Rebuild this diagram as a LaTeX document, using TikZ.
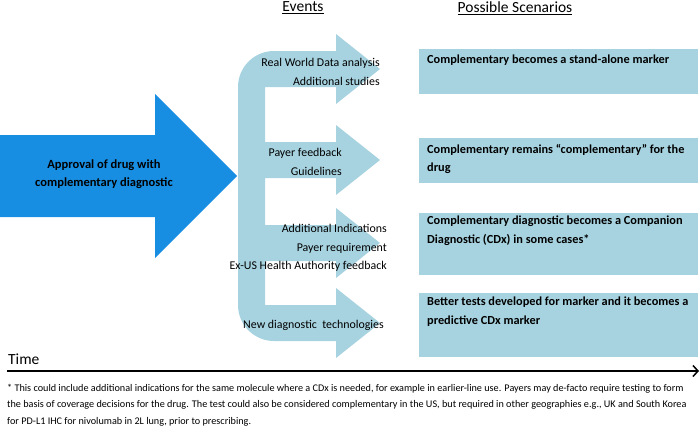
\documentclass[tikz,border=0pt]{standalone}
\usepackage{fontspec}
\setmainfont{Carlito}
\usetikzlibrary{arrows.meta}

\definecolor{approvalblue}{RGB}{24,142,226}
\definecolor{eventblue}{RGB}{167,211,224}

\tikzset{
  heading/.style={font=\fontsize{15.5}{17}\selectfont},
  eventtext/.style={font=\fontsize{11.9}{18.3}\selectfont, align=right, inner sep=0pt, anchor=east},
  scentext/.style={font=\bfseries\fontsize{12.3}{18.5}\selectfont, align=left, inner sep=0pt, anchor=north west},
}

\begin{document}
\begin{tikzpicture}[x=1pt,y=-1pt]
        \useasboundingbox (0,0) rectangle (700,428);

        % Column headings
        \node[heading] (events) at (303,8) {\underline{Events}};
        \node[heading] (scenarios) at (515,8) {\underline{Possible Scenarios}};

        % Big arrow for the approval
        \fill[approvalblue] (0,135) -- (155,135) -- (155,94) -- (237,176) -- (155,258) -- (155,217) -- (0,217) -- cycle;
        \node[font=\bfseries\fontsize{12.5}{18}\selectfont, align=center] (approval) at (104,174) {Approval of drug with\\complementary diagnostic};

        % Branching arrow, one head per event
        \fill[eventblue] (265,87) -- (336,87) -- (336,104) -- (380,69) -- (336,34) -- (336,51)
            [rounded corners=36pt] -- (238,51) -- (238,341) [sharp corners] -- (336,341)
            -- (336,358) -- (380,323) -- (336,288) -- (336,305) -- (265,305)
            -- (265,261) -- (336,261) -- (336,278) -- (380,243) -- (336,208) -- (336,225) -- (265,225)
            -- (265,178) -- (336,178) -- (336,195) -- (380,160) -- (336,125) -- (336,142) -- (265,142) -- cycle;

        % Event labels
        \node[eventtext] (ev1) at (380,72) {Real World Data analysis\\Additional studies};
        \node[eventtext] (ev2) at (342,162) {Payer feedback\\Guidelines};
        \node[eventtext] (ev3) at (387,248) {Additional Indications\\Payer requirement\\Ex-US Health Authority feedback};
        \node[eventtext] (ev4) at (384,325) {New diagnostic\ \ technologies};

        % Scenario boxes
        \fill[eventblue] (419,49) rectangle (698,94);
        \fill[eventblue] (419,138) rectangle (698,183);
        \fill[eventblue] (419,213) rectangle (698,275);
        \fill[eventblue] (419,293) rectangle (698,357);
        \node[scentext] (sc1) at (427,55) {Complementary becomes a stand-alone marker};
        \node[scentext] (sc2) at (427,144) {Complementary remains “complementary” for the\\drug};
        \node[scentext] (sc3) at (427,216) {Complementary diagnostic becomes a Companion\\Diagnostic (CDx) in some cases*};
        \node[scentext] (sc4) at (427,297) {Better tests developed for marker and it becomes a\\predictive CDx marker};

        % Time axis
        \node[heading, anchor=west, inner sep=0pt] (time) at (8,359) {Time};
        \coordinate (tstart) at (7,371);
        \coordinate (tend) at (699,371);
        \draw[line width=1.5pt, -{Straight Barb[length=5pt,width=11pt]}] (tstart) -- (tend);

        % Footnote
        \node[anchor=north west, align=left, inner sep=0pt, font=\fontsize{10.2}{16.5}\selectfont] (note) at (7,384)
            {* This could include additional indications for the same molecule where a CDx is needed, for example in earlier-line use.  Payers may de-facto require testing to form\\
             the basis of coverage decisions for the drug.  The test could also be considered complementary in the US, but required in other geographies e.g., UK and South Korea\\
             for PD-L1 IHC for nivolumab in 2L lung, prior to prescribing.};
    \end{tikzpicture}
\end{document}
